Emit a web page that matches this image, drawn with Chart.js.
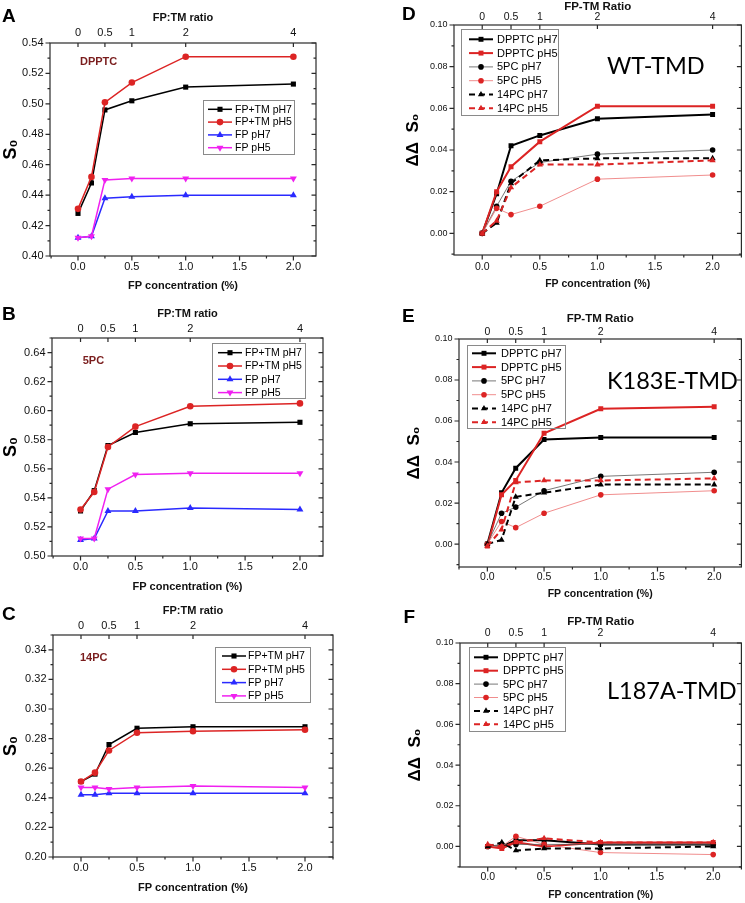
<!DOCTYPE html>
<html><head><meta charset="utf-8">
<script src="https://cdn.jsdelivr.net/npm/chart.js@4.4.1/dist/chart.umd.min.js"></script>
<style>
html,body{margin:0;padding:0;background:#fff;}
body{width:745px;height:903px;position:relative;overflow:hidden;}
.cell{position:absolute;}
.cell canvas{display:block;}
.letter{position:absolute;font:bold 19px "Liberation Sans",Arial,sans-serif;color:#000;line-height:1;white-space:nowrap;}
.note{position:absolute;font:bold 11px "Liberation Sans",Arial,sans-serif;color:#7a1d1d;line-height:1;white-space:nowrap;}
.big{position:absolute;font:23.5px Lato,"Open Sans",sans-serif;color:#000;line-height:1;white-space:nowrap;}
</style></head>
<body>
<script>
// ---------------- DATA ----------------
const concentrations = [0, 0.125, 0.25, 0.5, 1.0, 2.0];
const concTicks = [0, 0.5, 1.0, 1.5, 2.0];
const ratioTickPositions = [0, 0.25, 0.5, 1, 2];
const ratioTickLabels = ['0', '0.5', '1', '2', '4'];

// Panel A (DPPTC)
const dpptcFpTmPH7 = [0.428, 0.448, 0.496, 0.502, 0.511, 0.513];
const dpptcFpTmPH5 = [0.431, 0.452, 0.501, 0.514, 0.531, 0.531];
const dpptcFpPH7   = [0.412, 0.413, 0.438, 0.439, 0.440, 0.440];
const dpptcFpPH5   = [0.412, 0.413, 0.450, 0.451, 0.451, 0.451];
// Panel B (5PC)
const pc5FpTmPH7 = [0.531, 0.545, 0.576, 0.585, 0.591, 0.592];
const pc5FpTmPH5 = [0.532, 0.544, 0.575, 0.589, 0.603, 0.605];
const pc5FpPH7   = [0.511, 0.512, 0.531, 0.531, 0.533, 0.532];
const pc5FpPH5   = [0.512, 0.512, 0.546, 0.556, 0.557, 0.557];
// Panel C (14PC)
const pc14FpTmPH7 = [0.251, 0.256, 0.276, 0.287, 0.288, 0.288];
const pc14FpTmPH5 = [0.251, 0.257, 0.272, 0.284, 0.285, 0.286];
const pc14FpPH7   = [0.242, 0.242, 0.243, 0.243, 0.243, 0.243];
const pc14FpPH5   = [0.247, 0.247, 0.246, 0.247, 0.248, 0.247];
// Panel D (WT-TMD)
const wtDpptcPH7 = [0, 0.019, 0.042, 0.047, 0.055, 0.057];
const wtDpptcPH5 = [0, 0.020, 0.032, 0.044, 0.061, 0.061];
const wt5pcPH7   = [0, 0.013, 0.025, 0.034, 0.038, 0.040];
const wt5pcPH5   = [0, 0.012, 0.009, 0.013, 0.026, 0.028];
const wt14pcPH7  = [0, 0.005, 0.024, 0.035, 0.036, 0.036];
const wt14pcPH5  = [0, 0.006, 0.022, 0.033, 0.033, 0.035];
// Panel E (K183E-TMD)
const kDpptcPH7 = [0, 0.025, 0.037, 0.051, 0.052, 0.052];
const kDpptcPH5 = [-0.001, 0.024, 0.031, 0.054, 0.066, 0.067];
const k5pcPH7   = [0, 0.015, 0.018, 0.026, 0.033, 0.035];
const k5pcPH5   = [0, 0.011, 0.008, 0.015, 0.024, 0.026];
const k14pcPH7  = [0, 0.002, 0.023, 0.025, 0.029, 0.029];
const k14pcPH5  = [-0.001, 0.007, 0.030, 0.031, 0.031, 0.032];
// Panel F (L187A-TMD)
const lDpptcPH7 = [0, 0, 0.003, 0.003, 0.001, 0.001];
const lDpptcPH5 = [0, -0.001, 0.002, 0, 0.002, 0.002];
const l5pcPH7   = [0, 0.001, 0.001, 0.001, 0.001, 0.001];
const l5pcPH5   = [0, 0, 0.005, 0.001, -0.003, -0.004];
const l14pcPH7  = [0, 0.002, -0.002, -0.001, -0.001, 0];
const l14pcPH5  = [0.001, 0, 0.002, 0.004, 0.002, 0.002];

// ---------------- STYLE ----------------
const FONT = '"Liberation Sans", Arial, sans-serif';
const BLACK = '#000000', RED = '#dc2424', BLUE = '#2a2aff', MAGENTA = '#f020f0', LIGHTRED = '#ec7070', GRAYLINE = '#555555';

function ser(label, vals, s) {
  return {
    label,
    data: concentrations.map((c, i) => ({x: c, y: vals[i]})),
    borderColor: s.line || s.color,
    backgroundColor: s.color,
    pointBackgroundColor: s.color,
    pointBorderColor: s.color,
    pointStyle: s.style,
    pointRotation: s.rot || 0,
    pointRadius: s.r,
    pointBorderWidth: 0,
    pointHoverRadius: s.r,
    borderWidth: s.w,
    borderDash: s.dash || [],
    tension: 0,
    fill: false,
    order: s.order
  };
}
function abcSets(tm7, tm5, fp7, fp5) {
  return [
    ser('FP+TM pH7', tm7, {color: BLACK, style: 'rect', r: 3.6, w: 1.5, order: 4}),
    ser('FP+TM pH5', tm5, {color: RED, style: 'circle', r: 3.3, w: 1.5, order: 3}),
    ser('FP pH7', fp7, {color: BLUE, style: 'triangle', r: 4, w: 1.5, order: 2}),
    ser('FP pH5', fp5, {color: MAGENTA, style: 'triangle', rot: 180, r: 4, w: 1.5, order: 1})
  ];
}
function defSets(d7, d5, p7, p5, q7, q5) {
  return [
    ser('DPPTC pH7', d7, {color: BLACK, style: 'rect', r: 3.5, w: 2, order: 6}),
    ser('DPPTC pH5', d5, {color: RED, style: 'rect', r: 3.5, w: 2, order: 5}),
    ser('5PC pH7', p7, {color: BLACK, line: GRAYLINE, style: 'circle', r: 2.8, w: 0.8, order: 4}),
    ser('5PC pH5', p5, {color: RED, line: LIGHTRED, style: 'circle', r: 2.8, w: 0.8, order: 3}),
    ser('14PC pH7', q7, {color: BLACK, style: 'triangle', r: 3.6, w: 2, dash: [6, 4], order: 2}),
    ser('14PC pH5', q5, {color: RED, style: 'triangle', r: 3.6, w: 2, dash: [6, 4], order: 1})
  ];
}

// ---------------- PANELS (layout) ----------------
const panels = [
  {id: 'A', cell: [0, 0, 372, 300], area: [50, 43, 316, 256], xr: [-0.26, 2.21], yr: [0.40, 0.54], ystep: 0.02,
   topTitle: 'FP:TM ratio', topTitleY: 18, topLabelY: 33, xLabelY: 267, xTitleY: 286, yTitle: 'S₀', yTitleX: 11,
   tick: 11, ytick: 11, titleSize: 11, topTitleSize: 11, yTitleSize: 18, legFont: 10.5,
   leg: {box: [203, 100, 91, 54], row0: 109.3, step: 12.8, sx: 208, sl: 24, tx: 235},
   sets: abcSets(dpptcFpTmPH7, dpptcFpTmPH5, dpptcFpPH7, dpptcFpPH5)},
  {id: 'B', cell: [0, 300, 372, 300], area: [52, 338, 323, 556], xr: [-0.26, 2.21], yr: [0.50, 0.65], ystep: 0.02,
   topTitle: 'FP:TM ratio', topTitleY: 314, topLabelY: 329, xLabelY: 567, xTitleY: 587, yTitle: 'S₀', yTitleX: 11,
   tick: 11, ytick: 11, titleSize: 11, topTitleSize: 11, yTitleSize: 18, legFont: 10.5,
   leg: {box: [212, 343, 93, 55], row0: 352.7, step: 13.3, sx: 218, sl: 24, tx: 245},
   sets: abcSets(pc5FpTmPH7, pc5FpTmPH5, pc5FpPH7, pc5FpPH5)},
  {id: 'C', cell: [0, 600, 372, 303], area: [53, 635, 333, 857], xr: [-0.25, 2.25], yr: [0.20, 0.35], ystep: 0.02,
   topTitle: 'FP:TM ratio', topTitleY: 611, topLabelY: 626, xLabelY: 868, xTitleY: 888, yTitle: 'S₀', yTitleX: 11,
   tick: 11, ytick: 11, titleSize: 11, topTitleSize: 11, yTitleSize: 18, legFont: 10.5,
   leg: {box: [215, 647, 95, 55], row0: 656, step: 13.3, sx: 222, sl: 24, tx: 248},
   sets: abcSets(pc14FpTmPH7, pc14FpTmPH5, pc14FpPH7, pc14FpPH5)},
  {id: 'D', cell: [372, 0, 373, 300], area: [454, 25, 742, 255], xr: [-0.245, 2.25], yr: [-0.0104, 0.10], ystep: 0.02,
   topTitle: 'FP-TM Ratio', topTitleY: 6.6, topLabelY: 17, xLabelY: 267, xTitleY: 284, yTitle: 'ΔΔ  S₀', yTitleX: 413.5,
   tick: 10.5, ytick: 9, titleSize: 10.5, topTitleSize: 11.5, yTitleSize: 17, legFont: 11,
   leg: {box: [461, 29, 97, 86], row0: 39.3, step: 13.8, sx: 469, sl: 24, tx: 497},
   sets: defSets(wtDpptcPH7, wtDpptcPH5, wt5pcPH7, wt5pcPH5, wt14pcPH7, wt14pcPH5)},
  {id: 'E', cell: [372, 300, 373, 300], area: [459, 339, 743, 567], xr: [-0.25, 2.24], yr: [-0.0112, 0.10], ystep: 0.02,
   topTitle: 'FP-TM Ratio', topTitleY: 319, topLabelY: 332, xLabelY: 577, xTitleY: 594, yTitle: 'ΔΔ  S₀', yTitleX: 414.5,
   tick: 10.5, ytick: 9, titleSize: 10.5, topTitleSize: 11.5, yTitleSize: 17, legFont: 11,
   leg: {box: [467, 345, 98, 83], row0: 353.3, step: 13.8, sx: 472, sl: 24, tx: 501},
   sets: defSets(kDpptcPH7, kDpptcPH5, k5pcPH7, k5pcPH5, k14pcPH7, k14pcPH5)},
  {id: 'F', cell: [372, 600, 373, 303], area: [460, 643, 743, 867], xr: [-0.246, 2.25], yr: [-0.0101, 0.10], ystep: 0.02,
   topTitle: 'FP-TM Ratio', topTitleY: 622, topLabelY: 633, xLabelY: 877, xTitleY: 895, yTitle: 'ΔΔ  S₀', yTitleX: 415,
   tick: 10.5, ytick: 9, titleSize: 10.5, topTitleSize: 11.5, yTitleSize: 17, legFont: 11,
   leg: {box: [469, 647, 96, 84], row0: 657.3, step: 13.4, sx: 474, sl: 24, tx: 503},
   sets: defSets(lDpptcPH7, lDpptcPH5, l5pcPH7, l5pcPH5, l14pcPH7, l14pcPH5)}
];

const annotations = [
  {cls: 'letter', text: 'A', x: 2, y: 5.5}, {cls: 'letter', text: 'B', x: 2, y: 304},
  {cls: 'letter', text: 'C', x: 2, y: 604}, {cls: 'letter', text: 'D', x: 402, y: 4},
  {cls: 'letter', text: 'E', x: 402, y: 305.5}, {cls: 'letter', text: 'F', x: 403.5, y: 606.5},
  {cls: 'note', text: 'DPPTC', x: 80, y: 56.4}, {cls: 'note', text: '5PC', x: 82.7, y: 355},
  {cls: 'note', text: '14PC', x: 80, y: 651.7},
  {cls: 'big', text: 'WT-TMD', x: 607, y: 54}, {cls: 'big', text: 'K183E-TMD', x: 607, y: 369},
  {cls: 'big', text: 'L187A-TMD', x: 607, y: 679}
];

// ---------------- DRAW ----------------
function markerPath(ctx, style, rot, r, x, y) {
  if (Chart.helpers && Chart.helpers.drawPoint) {
    Chart.helpers.drawPoint(ctx, {pointStyle: style, rotation: rot, radius: r, borderWidth: 0}, x, y);
    return;
  }
  ctx.beginPath();
  if (style === 'rect') { const s = r * Math.SQRT1_2; ctx.rect(x - s, y - s, 2 * s, 2 * s); }
  else if (style === 'triangle') {
    let a = rot * Math.PI / 180;
    for (let k = 0; k < 3; k++) { const px = x + Math.sin(a) * r, py = y - Math.cos(a) * r; k ? ctx.lineTo(px, py) : ctx.moveTo(px, py); a += 2 * Math.PI / 3; }
    ctx.closePath();
  } else ctx.arc(x, y, r, 0, Math.PI * 2);
  ctx.fill();
}

function makeDeco(p) {
  const [cl, ct] = p.cell;
  return {
    id: 'deco' + p.id,
    afterDraw(chart) {
      const ctx = chart.ctx, a = chart.chartArea, xs = chart.scales.x, x2 = chart.scales.x2, ys = chart.scales.y;
      ctx.save();
      // legend
      const L = p.leg;
      ctx.strokeStyle = '#8a8a8a'; ctx.lineWidth = 1;
      ctx.strokeRect(L.box[0] - cl + 0.5, L.box[1] - ct + 0.5, L.box[2], L.box[3]);
      chart.data.datasets.forEach((ds, i) => {
        const yy = L.row0 - ct + i * L.step, x0 = L.sx - cl;
        ctx.save();
        ctx.strokeStyle = ds.borderColor; ctx.lineWidth = ds.borderWidth;
        ctx.setLineDash(ds.borderDash || []);
        ctx.beginPath(); ctx.moveTo(x0, yy); ctx.lineTo(x0 + L.sl, yy); ctx.stroke();
        ctx.setLineDash([]);
        ctx.fillStyle = ds.pointBackgroundColor;
        markerPath(ctx, ds.pointStyle, ds.pointRotation, ds.pointRadius, x0 + L.sl / 2, yy);
        ctx.restore();
        ctx.fillStyle = '#000'; ctx.font = p.legFont + 'px ' + FONT;
        ctx.textBaseline = 'middle'; ctx.textAlign = 'left';
        ctx.fillText(ds.label, L.tx - cl, yy + 0.5);
      });
      // frame and ticks
      ctx.strokeStyle = '#2a2a2a'; ctx.lineWidth = 1.2;
      ctx.strokeRect(a.left, a.top, a.right - a.left, a.bottom - a.top);
      ctx.beginPath();
      for (let k = Math.ceil(xs.min / 0.25 - 1e-9); k * 0.25 <= xs.max + 1e-9; k++) {
        const px = xs.getPixelForValue(k * 0.25), major = (k % 2 === 0);
        ctx.moveTo(px, a.bottom); ctx.lineTo(px, a.bottom + (major ? 4.5 : 2.5));
      }
      for (const v of ratioTickPositions) {
        const px = x2.getPixelForValue(v);
        ctx.moveTo(px, a.top); ctx.lineTo(px, a.top + 4);
      }
      const st = p.ystep / 2;
      for (let k = Math.ceil(ys.min / st - 1e-9); k * st <= ys.max + 1e-9; k++) {
        const py = ys.getPixelForValue(k * st), major = (k % 2 === 0);
        ctx.moveTo(a.left, py); ctx.lineTo(a.left - (major ? 4.5 : 2.5), py);
        ctx.moveTo(a.right, py); ctx.lineTo(a.right - (major ? 4.5 : 2.5), py);
      }
      ctx.stroke();
      ctx.restore();
    }
  };
}

function buildPanel(p) {
  const [cl, ct, cw, ch] = p.cell;
  const [x0, y0, x1, y1] = p.area;
  const wrap = document.createElement('div');
  wrap.className = 'cell';
  wrap.style.left = cl + 'px'; wrap.style.top = ct + 'px';
  const cv = document.createElement('canvas');
  cv.width = cw; cv.height = ch; cv.style.width = cw + 'px'; cv.style.height = ch + 'px';
  wrap.appendChild(cv); document.body.appendChild(wrap);
  const lh = s => s * 1.2;
  const noGrid = {display: false, drawTicks: false};
  const noBorder = {display: false};
  new Chart(cv, {
    type: 'line',
    data: {datasets: p.sets},
    options: {
      responsive: false, animation: false, devicePixelRatio: 1,
      layout: {padding: {left: 0, top: 0, right: (cl + cw) - x1, bottom: 0}},
      plugins: {legend: {display: false}, tooltip: {enabled: false}},
      events: [],
      scales: {
        x: {
          type: 'linear', position: 'bottom', min: p.xr[0], max: p.xr[1],
          afterBuildTicks: s => { s.ticks = concTicks.map(v => ({value: v})); },
          afterFit: s => { s.height = (ct + ch) - y1; },
          grid: noGrid, border: noBorder,
          ticks: {font: {family: FONT, size: p.tick}, color: '#111', autoSkip: false, maxRotation: 0,
                  padding: p.xLabelY - y1 - lh(p.tick) / 2, callback: v => Number(v).toFixed(1)},
          title: {display: true, text: 'FP concentration (%)', color: '#111',
                  font: {family: FONT, size: p.titleSize, weight: 'bold'},
                  padding: {top: 0, bottom: (ct + ch) - p.xTitleY - lh(p.titleSize) / 2}}
        },
        x2: {
          type: 'linear', position: 'top', min: p.xr[0], max: p.xr[1],
          afterBuildTicks: s => { s.ticks = ratioTickPositions.map(v => ({value: v})); },
          afterFit: s => { s.height = y0 - ct; },
          grid: noGrid, border: noBorder,
          ticks: {font: {family: FONT, size: p.tick}, color: '#111', autoSkip: false, maxRotation: 0,
                  padding: Math.max(0, y0 - p.topLabelY - lh(p.tick) / 2),
                  callback: v => ratioTickLabels[ratioTickPositions.indexOf(v)]},
          title: {display: true, text: p.topTitle, color: '#111',
                  font: {family: FONT, size: p.topTitleSize, weight: 'bold'},
                  padding: {top: Math.max(0, p.topTitleY - ct - lh(p.topTitleSize) / 2), bottom: 0}}
        },
        y: {
          type: 'linear', position: 'left', min: p.yr[0], max: p.yr[1],
          afterBuildTicks: s => {
            const t = [];
            for (let k = Math.ceil(p.yr[0] / p.ystep - 1e-9); k * p.ystep <= p.yr[1] + 1e-9; k++) t.push({value: +(k * p.ystep).toFixed(4)});
            s.ticks = t;
          },
          afterFit: s => { s.width = x0 - cl; },
          grid: noGrid, border: noBorder,
          ticks: {font: {family: FONT, size: p.ytick}, color: '#111', autoSkip: false, padding: 6.5,
                  callback: v => Number(v).toFixed(2)},
          title: {display: true, text: p.yTitle, color: '#000',
                  font: {family: FONT, size: p.yTitleSize, weight: 'bold'},
                  padding: {top: Math.max(0, p.yTitleX - cl - lh(p.yTitleSize) / 2), bottom: 0}}
        }
      }
    },
    plugins: [makeDeco(p)]
  });
}

panels.forEach(buildPanel);
annotations.forEach(a => {
  const d = document.createElement('div');
  d.className = a.cls; d.textContent = a.text;
  d.style.left = a.x + 'px'; d.style.top = a.y + 'px';
  document.body.appendChild(d);
});
</script>
</body></html>
